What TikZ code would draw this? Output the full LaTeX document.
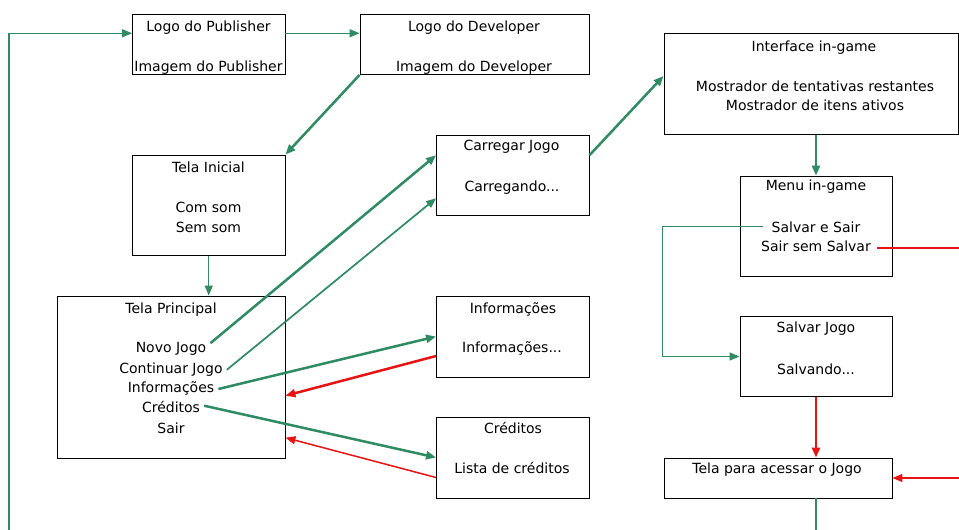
\documentclass[tikz,border=0pt]{standalone}
\usepackage{fontspec}
\setmainfont{DejaVu Sans}
\usetikzlibrary{arrows.meta,calc}
\definecolor{gline}{RGB}{46,139,98}
\definecolor{rline}{RGB}{232,20,20}
\begin{document}
\begin{tikzpicture}[x=1pt,y=-1pt,
  box/.style={draw=black, line width=0.9pt, inner sep=0pt},
  lbl/.style={font=\fontsize{14}{16}\selectfont, inner sep=1pt, anchor=base, text height=9.5pt, text depth=2.5pt},
  tip/.style={-{Triangle[length=10pt,width=8pt]}},
  gthin/.style={draw=gline, line width=1.3pt},
  gmid/.style={draw=gline, line width=1.7pt},
  gthick/.style={draw=gline, line width=2.5pt},
  rthin/.style={draw=rline, line width=1.5pt},
  rthick/.style={draw=rline, line width=2.5pt}]
\fill[white] (0,0) rectangle (959,530);
\useasboundingbox (0,0) rectangle (959,530);
% boxes
\node[box, minimum width=152.5pt, minimum height=60.5pt] (pub) at (208.75,44.25) {};
\node[box, minimum width=229pt, minimum height=60.5pt] (dev) at (474.5,44.25) {};
\node[box, minimum width=294.5pt, minimum height=101.5pt] (iface) at (811.25,84) {};
\node[box, minimum width=152.5pt, minimum height=100.5pt] (ini) at (208.75,205.25) {};
\node[box, minimum width=228pt, minimum height=162pt] (prin) at (171,377) {};
\node[box, minimum width=152.5pt, minimum height=80.5pt] (carr) at (512.75,175.25) {};
\node[box, minimum width=152.5pt, minimum height=81pt] (info) at (512.75,336.5) {};
\node[box, minimum width=152.5pt, minimum height=81pt] (cred) at (512.75,457.5) {};
\node[box, minimum width=152pt, minimum height=100pt] (menu) at (816,226) {};
\node[box, minimum width=152pt, minimum height=80pt] (salv) at (816,356.5) {};
\node[box, minimum width=228pt, minimum height=40pt] (tela) at (778,478) {};
% texts
\node[lbl] (pubt) at (208.5,31) {Logo do Publisher};
\node[lbl] (pubs) at (208.5,71) {Imagem do Publisher};
\node[lbl] (devt) at (474,31) {Logo do Developer};
\node[lbl] (devs) at (474,71) {Imagem do Developer};
\node[lbl] (ifacet) at (814,51) {Interface in-game};
\node[lbl] (ifacea) at (815,91) {Mostrador de tentativas restantes};
\node[lbl] (ifaceb) at (815,110) {Mostrador de itens ativos};
\node[lbl] (init) at (208.5,172.5) {Tela Inicial};
\node[lbl] (inia) at (208.5,212) {Com som};
\node[lbl] (inib) at (208.5,232.5) {Sem som};
\node[lbl] (print) at (171,313.5) {Tela Principal};
\node[lbl] (novo) at (171,352.7) {Novo Jogo};
\node[lbl] (cont) at (171,373.3) {Continuar Jogo};
\node[lbl] (infol) at (171,392.5) {Informações};
\node[lbl] (credl) at (171,412.7) {Créditos};
\node[lbl] (sair) at (171,433.3) {Sair};
\node[lbl] (carrt) at (511.5,150.7) {Carregar Jogo};
\node[lbl] (carrs) at (512,191.7) {Carregando...};
\node[lbl] (infot) at (513,313.3) {Informações};
\node[lbl] (infos) at (512,352.7) {Informações...};
\node[lbl] (credt) at (513,433.3) {Créditos};
\node[lbl] (creds) at (512,473.3) {Lista de créditos};
\node[lbl] (menut) at (816,190.5) {Menu in-game};
\node[lbl] (sse) at (816,232) {Salvar e Sair};
\node[lbl] (sss) at (816,251.5) {Sair sem Salvar};
\node[lbl] (salvt) at (816,332.3) {Salvar Jogo};
\node[lbl] (salvs) at (816,374) {Salvando...};
\node[lbl] (telat) at (777,473.3) {Tela para acessar o Jogo};
% free ends
\coordinate (lb) at (9,530);
\coordinate (rt) at (959,0);
\coordinate (bt) at (0,530);
% connectors
\draw[gthin,tip] (lb) |- ([yshift=11pt]pub.west);
\draw[gthin,tip] ([yshift=11pt]pub.east) -- ([yshift=11pt]dev.west);
\draw[gthick,tip] (dev.south west) -- (ini.north east);
\draw[gthin,tip] (ini.south) -- (ini.south |- prin.north);
\draw[gthick,tip] ([xshift=3pt,yshift=6pt]novo.east) -- ([yshift=20pt]carr.west);
\draw[gmid,tip] ([xshift=3pt]cont.east) -- ([yshift=-23pt]carr.west);
\draw[gthick,tip] ([xshift=3pt]infol.east) -- (info.west);
\draw[rthick,tip] ([yshift=-19.5pt]info.west) -- ([yshift=-18.7pt]prin.east);
\draw[gthick,tip] ([xshift=3pt,yshift=3.5pt]credl.east) -- (cred.west);
\draw[rthin,tip] ([yshift=-20pt]cred.west) -- ([yshift=-60.7pt]prin.east);
\draw[gthick,tip] ([yshift=20pt]carr.east) -- ([yshift=8pt]iface.west);
\draw[gthick,tip] (menu.north |- iface.south) -- (menu.north);
\draw[gthin,tip] ([xshift=-8pt,yshift=2pt]sse.west) -| ($(salv.west)+(-77,0)$) -- (salv.west);
\draw[rthin] ([xshift=5pt]sss.east) -- ([xshift=5pt]sss.east -| rt);
\draw[rthick,tip] (salv.south) -- (salv.south |- tela.north);
\draw[rthin,tip] (tela.east -| rt) -- (tela.east);
\draw[gthin] (salv.south |- tela.south) -- (salv.south |- bt);
\end{tikzpicture}
\end{document}
